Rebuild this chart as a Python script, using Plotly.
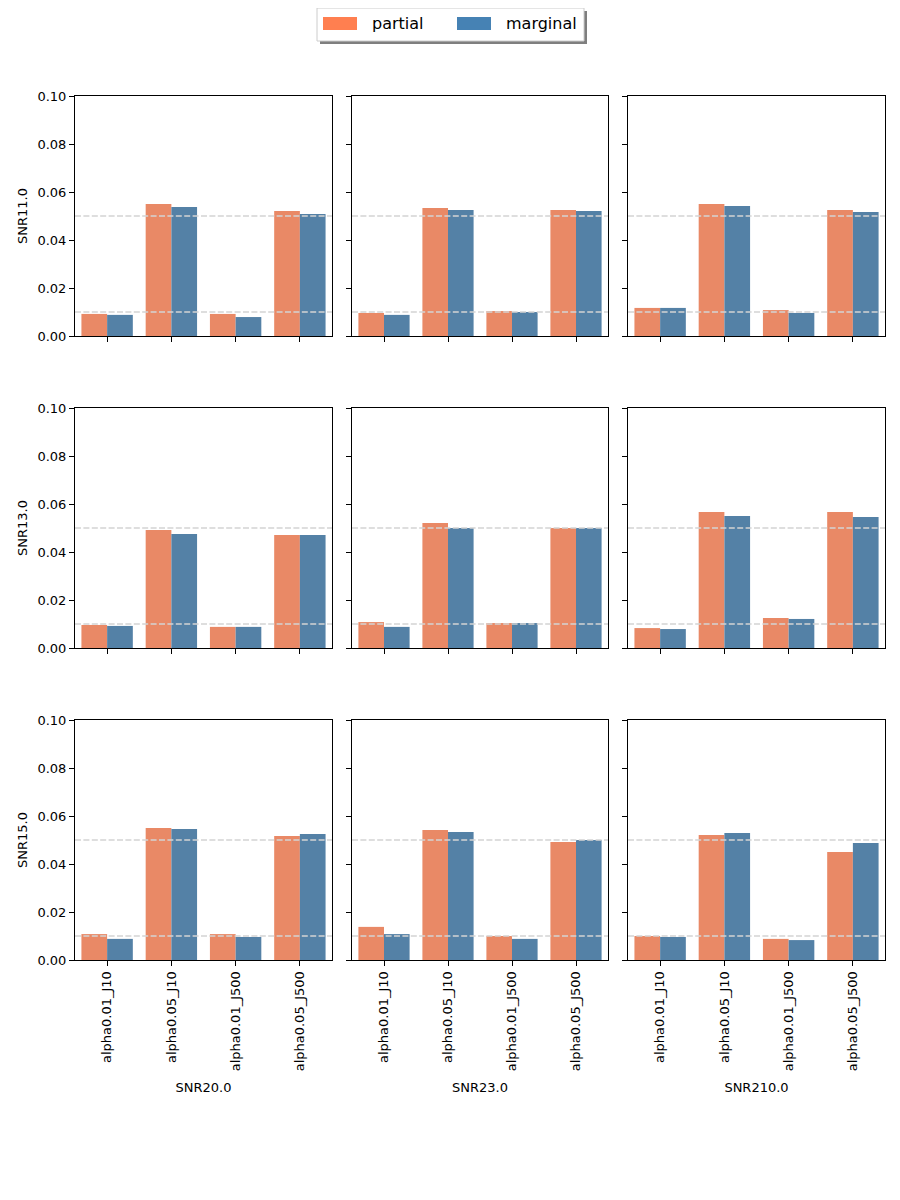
import plotly.graph_objects as go
from plotly.subplots import make_subplots

# categories on each x axis
methods = ["alpha0.01_J10", "alpha0.05_J10", "alpha0.01_J500", "alpha0.05_J500"]
row_labels = ["SNR11.0", "SNR13.0", "SNR15.0"]
col_labels = ["SNR20.0", "SNR23.0", "SNR210.0"]
series_names = ["partial", "marginal"]
y_ticks = [0.0, 0.02, 0.04, 0.06, 0.08, 0.10]
ref_levels = [0.01, 0.05]

# rejection rates, [row][col][method]
partial_rates = [
    [[0.0092, 0.0550, 0.0092, 0.0521],
     [0.0096, 0.0533, 0.0104, 0.0525],
     [0.0117, 0.0550, 0.0108, 0.0525]],
    [[0.0096, 0.0492, 0.0088, 0.0471],
     [0.0108, 0.0521, 0.0104, 0.0500],
     [0.0083, 0.0567, 0.0125, 0.0567]],
    [[0.0108, 0.0550, 0.0108, 0.0517],
     [0.0138, 0.0542, 0.0100, 0.0492],
     [0.0100, 0.0521, 0.0088, 0.0450]],
]
marginal_rates = [
    [[0.0088, 0.0537, 0.0079, 0.0508],
     [0.0088, 0.0525, 0.0100, 0.0521],
     [0.0117, 0.0542, 0.0096, 0.0517]],
    [[0.0092, 0.0475, 0.0088, 0.0471],
     [0.0088, 0.0500, 0.0104, 0.0500],
     [0.0079, 0.0550, 0.0121, 0.0546]],
    [[0.0088, 0.0546, 0.0096, 0.0525],
     [0.0108, 0.0533, 0.0088, 0.0500],
     [0.0096, 0.0529, 0.0083, 0.0488]],
]

bar_colors = ["#E98966", "#5481A6"]      # seaborn-desaturated coral / steelblue
legend_colors = ["#FF7F50", "#4682B4"]

# page has an 8px body margin, so the figure is 16px smaller than the window
OFF = 8
W, H = 900 - 2 * OFF, 1200 - 2 * OFF
col_px = [(75, 332), (352, 608), (628, 885)]
row_px = [(96, 336), (408, 648), (720, 960)]


def px_x(x):
    return (x - OFF) / W


def px_y(y):
    return 1 - (y - OFF) / H


fig = make_subplots(rows=3, cols=3)

for r in range(3):
    for c in range(3):
        for name, vals, color in zip(series_names,
                                     [partial_rates[r][c], marginal_rates[r][c]],
                                     bar_colors):
            fig.add_trace(go.Bar(x=methods, y=vals, name=name,
                                 marker=dict(color=color, line_width=0),
                                 showlegend=False),
                          row=r + 1, col=c + 1)
        for lvl in ref_levels:
            fig.add_hline(y=lvl, line=dict(color="#d3d3d3", width=1.5, dash="6px,2.4px"),
                          layer="above", row=r + 1, col=c + 1)

        fig.update_xaxes(domain=[px_x(col_px[c][0]), px_x(col_px[c][1])],
                         range=[-0.5, 3.5], showticklabels=(r == 2), tickangle=-90,
                         title_text=col_labels[c] if r == 2 else None,
                         title_standoff=12,
                         row=r + 1, col=c + 1)
        fig.update_yaxes(domain=[px_y(row_px[r][1]), px_y(row_px[r][0])],
                         range=[0, 0.1], tickvals=y_ticks, tickformat=".2f",
                         showticklabels=(c == 0),
                         title_text=row_labels[r] if c == 0 else None,
                         title_standoff=6,
                         row=r + 1, col=c + 1)

fig.update_xaxes(showline=True, mirror=True, linecolor="black", linewidth=1,
                 ticks="outside", ticklen=5, tickcolor="black", showgrid=False,
                 zeroline=False, title_font_size=13, tickfont_size=13,
                 automargin=False)
fig.update_yaxes(showline=True, mirror=True, linecolor="black", linewidth=1,
                 ticks="outside", ticklen=5, tickcolor="black", showgrid=False,
                 zeroline=False, title_font_size=13, tickfont_size=13,
                 automargin=False)

# hand-drawn legend box (matplotlib style, with shadow)
fig.add_shape(type="rect", xref="paper", yref="paper",
              x0=px_x(320), x1=px_x(587), y0=px_y(44), y1=px_y(11),
              fillcolor="#7f7f7f", line_width=0, layer="above")
fig.add_shape(type="rect", xref="paper", yref="paper",
              x0=px_x(317), x1=px_x(584), y0=px_y(41), y1=px_y(8),
              fillcolor="white", line=dict(color="#cccccc", width=1), layer="above")
swatch_x = [323, 457]
text_x = [370, 504]
for name, color, sx, tx in zip(series_names, legend_colors, swatch_x, text_x):
    fig.add_shape(type="rect", xref="paper", yref="paper",
                  x0=px_x(sx), x1=px_x(sx + 34), y0=px_y(30), y1=px_y(17),
                  fillcolor=color, line_width=0, layer="above")
    fig.add_annotation(text=name, xref="paper", yref="paper",
                       x=px_x(tx), y=px_y(23.5), xanchor="left", yanchor="middle",
                       showarrow=False, font=dict(size=16))

fig.update_layout(
    width=W, height=H,
    margin=dict(l=0, r=0, t=0, b=0),
    barmode="group", bargap=0.2, bargroupgap=0,
    plot_bgcolor="white", paper_bgcolor="white",
    font=dict(family="DejaVu Sans", size=13, color="black"),
    showlegend=False,
)

fig.write_html("out.html")
